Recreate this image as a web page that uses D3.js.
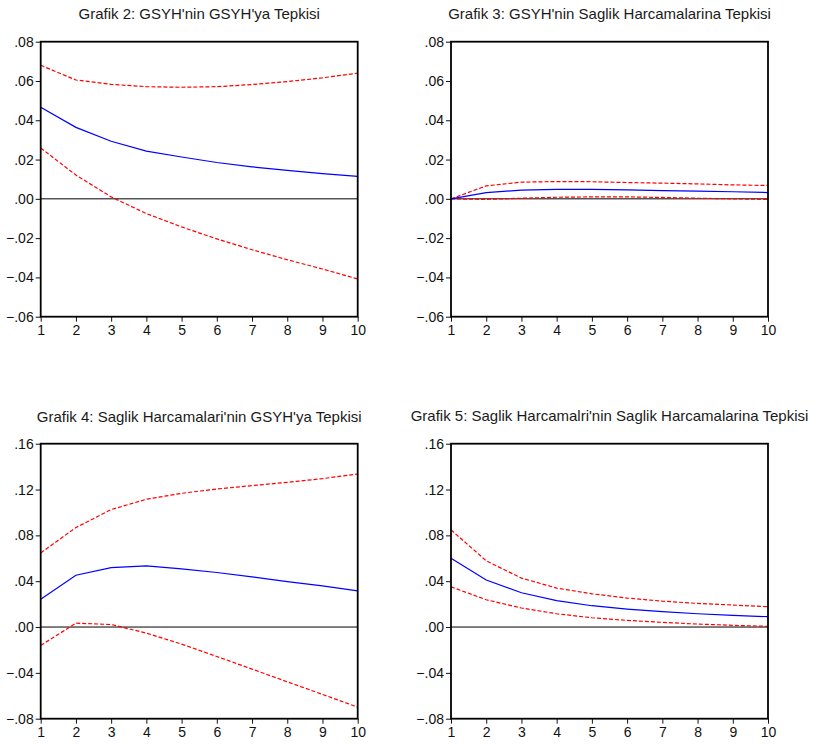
<!DOCTYPE html>
<html>
<head>
<meta charset="utf-8">
<script src="https://cdnjs.cloudflare.com/ajax/libs/d3/7.8.5/d3.min.js"></script>
<style>
  body { margin: 0; background: #fff; }
  svg { display: block; font-family: "Liberation Sans", Arial, sans-serif; }
</style>
</head>
<body>
<svg width="818" height="744"></svg>
<script>
let width = 818, height = 744;

// periods
const periods = [1, 2, 3, 4, 5, 6, 7, 8, 9, 10];

// Grafik 2
const g2Resp  = [0.0466, 0.0364, 0.0293, 0.0243, 0.0213, 0.0185, 0.0163, 0.0145, 0.0128, 0.0114];
const g2Upper = [0.0680, 0.0605, 0.0583, 0.0571, 0.0568, 0.0571, 0.0582, 0.0597, 0.0616, 0.0640];
const g2Lower = [0.0259, 0.0121, 0.0010, -0.0075, -0.0143, -0.0204, -0.0259, -0.0310, -0.0357, -0.0408];

// Grafik 3
const g3Resp  = [0.0000, 0.0032, 0.0044, 0.0048, 0.0048, 0.0046, 0.0042, 0.0039, 0.0036, 0.0032];
const g3Upper = [0.0000, 0.0066, 0.0085, 0.0088, 0.0087, 0.0083, 0.0080, 0.0076, 0.0071, 0.0068];
const g3Lower = [0.0000, -0.0003, 0.0003, 0.0008, 0.0010, 0.0010, 0.0007, 0.0003, 0.0000, -0.0003];

// Grafik 4
const g4Resp  = [0.0243, 0.0452, 0.0519, 0.0534, 0.0508, 0.0476, 0.0438, 0.0397, 0.0359, 0.0316];
const g4Upper = [0.0647, 0.0868, 0.1025, 0.1115, 0.1167, 0.1205, 0.1234, 0.1263, 0.1295, 0.1336];
const g4Lower = [-0.0161, 0.0034, 0.0022, -0.0053, -0.0149, -0.0257, -0.0367, -0.0478, -0.0588, -0.0699];

// Grafik 5
const g5Resp  = [0.0601, 0.0410, 0.0299, 0.0230, 0.0186, 0.0157, 0.0134, 0.0116, 0.0102, 0.0090];
const g5Upper = [0.0848, 0.0578, 0.0427, 0.0340, 0.0290, 0.0253, 0.0226, 0.0206, 0.0192, 0.0177];
const g5Lower = [0.0351, 0.0238, 0.0166, 0.0116, 0.0081, 0.0058, 0.0041, 0.0026, 0.0015, 0.0006];

// y tick values
const ticksTop = [-0.06, -0.04, -0.02, 0, 0.02, 0.04, 0.06, 0.08];
const ticksBottom = [-0.08, -0.04, 0, 0.04, 0.08, 0.12, 0.16];

const titles = [
  "Grafik 2: GSYH'nin GSYH'ya Tepkisi",
  "Grafik 3: GSYH'nin Saglik Harcamalarina Tepkisi",
  "Grafik 4: Saglik Harcamalari'nin GSYH'ya Tepkisi",
  "Grafik 5: Saglik Harcamalri'nin Saglik Harcamalarina Tepkisi"
];

let svg = d3.select("svg");

const panels = [
  { x: 40.7, y: 41.7, title: titles[0], ticks: ticksTop, resp: g2Resp, up: g2Upper, lo: g2Lower, titleY: 19.3 },
  { x: 451, y: 41.7, title: titles[1], ticks: ticksTop, resp: g3Resp, up: g3Upper, lo: g3Lower, titleY: 18.5 },
  { x: 40.7, y: 443.7, title: titles[2], ticks: ticksBottom, resp: g4Resp, up: g4Upper, lo: g4Lower, titleY: 421.5 },
  { x: 451, y: 443.7, title: titles[3], ticks: ticksBottom, resp: g5Resp, up: g5Upper, lo: g5Lower, titleY: 420.8 }
];

const pw = 317, ph = 275;

panels.forEach(p => {
  let g = svg.append("g").attr("transform", `translate(${p.x},${p.y})`);

  let x = d3.scaleLinear().domain([1, 10]).range([0, pw]);
  let y = d3.scaleLinear().domain(d3.extent(p.ticks)).range([ph, 0]);

  // title
  svg.append("text")
    .attr("x", p.x + pw / 2)
    .attr("y", p.titleY)
    .attr("text-anchor", "middle")
    .attr("font-size", 15)
    .attr("fill", "#1a1a1a")
    .text(p.title);

  // axes
  let yAxis = g.append("g")
    .call(d3.axisLeft(y).tickValues(p.ticks).tickSize(5).tickPadding(2)
      .tickFormat(d => d3.format(".2f")(d).replace("0.", ".")));
  let xAxis = g.append("g")
    .attr("transform", `translate(0,${ph})`)
    .call(d3.axisBottom(x).tickValues(periods).tickSize(5).tickPadding(3).tickFormat(d3.format("d")));

  [yAxis, xAxis].forEach(a => {
    a.select(".domain").remove();
    a.selectAll("text").attr("font-size", 14).attr("fill", "#111")
      .attr("font-family", "'Liberation Sans', Arial, sans-serif");
    a.selectAll("line").attr("stroke", "#111");
  });

  // zero line
  g.append("line")
    .attr("x1", 0).attr("x2", pw)
    .attr("y1", y(0)).attr("y2", y(0))
    .attr("stroke", "#000").attr("stroke-width", 1);

  let line = d3.line().x((d, i) => x(periods[i])).y(d => y(d));

  g.append("path").datum(p.up)
    .attr("d", line).attr("fill", "none")
    .attr("stroke", "#ff0000").attr("stroke-width", 1.2).attr("stroke-dasharray", "4,2");
  g.append("path").datum(p.lo)
    .attr("d", line).attr("fill", "none")
    .attr("stroke", "#ff0000").attr("stroke-width", 1.2).attr("stroke-dasharray", "4,2");
  g.append("path").datum(p.resp)
    .attr("d", line).attr("fill", "none")
    .attr("stroke", "#0000ff").attr("stroke-width", 1.2);

  // frame
  g.append("rect")
    .attr("width", pw).attr("height", ph)
    .attr("fill", "none").attr("stroke", "#000").attr("stroke-width", 1.8);
});
</script>
</body>
</html>
